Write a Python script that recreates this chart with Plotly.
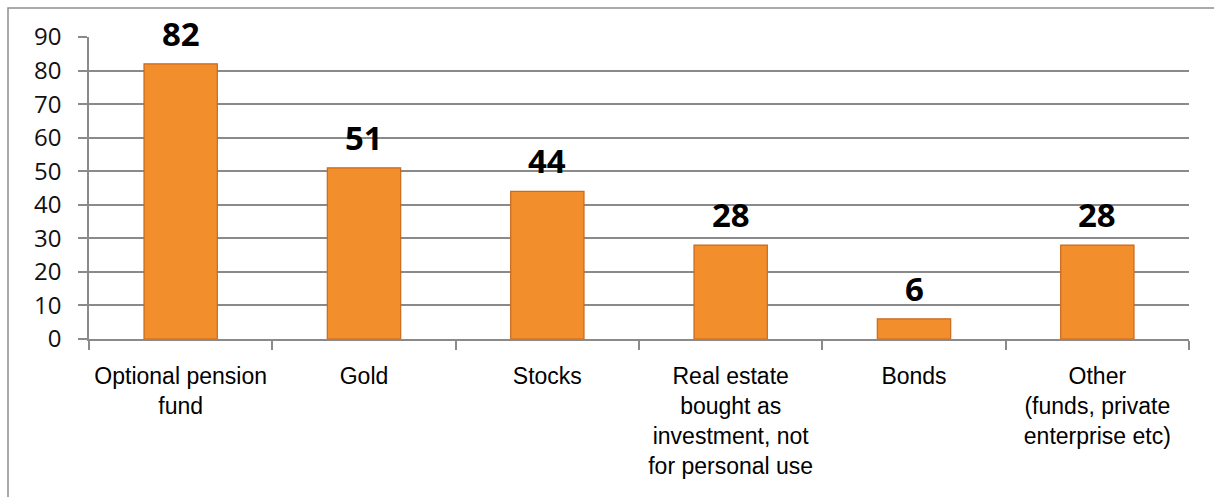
import plotly.graph_objects as go

categories = [
    "Optional pension<br>fund",
    "Gold",
    "Stocks",
    "Real estate<br>bought as<br>investment, not<br>for personal use",
    "Bonds",
    "Other<br>(funds, private<br>enterprise etc)",
]
values = [82, 51, 44, 28, 6, 28]
y_ticks = [0, 10, 20, 30, 40, 50, 60, 70, 80, 90]

W, H = 1214, 497
L, R, T, B = 89, 25, 37, 158
pw, ph = W - L - R, H - T - B

fig = go.Figure()
fig.add_trace(go.Bar(
    x=categories,
    y=values,
    marker=dict(color="#F28E2C", line=dict(color="#C96A20", width=1.2)),
    hoverinfo="skip",
))

for c, v in zip(categories, values):
    fig.add_annotation(
        x=c, y=v, text=f"<b>{v}</b>", showarrow=False,
        xref="x", yref="y", yanchor="bottom", yshift=6,
        font=dict(family="Open Sans, Noto Sans, sans-serif", size=33, color="#000000"),
    )

gray = "#8a8a8a"
fig.update_layout(
    width=W, height=H,
    margin=dict(l=L, r=R, t=T, b=B, pad=0),
    paper_bgcolor="white",
    plot_bgcolor="white",
    showlegend=False,
    bargap=0.6,
    xaxis=dict(
        type="category",
        tickson="boundaries",
        ticks="outside",
        ticklen=9,
        tickwidth=1.5,
        tickcolor=gray,
        showline=True,
        linecolor=gray,
        linewidth=1.5,
        showgrid=False,
        tickfont=dict(family="Liberation Sans, Arial, sans-serif", size=23, color="#000000"),
        ticklabelstandoff=16,
    ),
    yaxis=dict(
        range=[0, 90],
        tickvals=y_ticks,
        ticks="outside",
        ticklen=9,
        tickwidth=1.5,
        tickcolor=gray,
        showline=True,
        linecolor=gray,
        linewidth=1.5,
        showgrid=True,
        gridcolor=gray,
        gridwidth=1.5,
        zeroline=False,
        tickfont=dict(family="Open Sans, Noto Sans, sans-serif", size=24, color="#111111"),
        ticklabelstandoff=12,
    ),
    shapes=[dict(
        type="rect", xref="paper", yref="paper",
        x0=(8 - L) / pw, x1=(W + 20 - L) / pw,
        y0=(H - B - (H + 20)) / ph, y1=(H - B - 8) / ph,
        line=dict(color="#8f8f8f", width=1.5),
        fillcolor="rgba(0,0,0,0)",
        layer="below",
    )],
)

fig.write_html("out.html")
